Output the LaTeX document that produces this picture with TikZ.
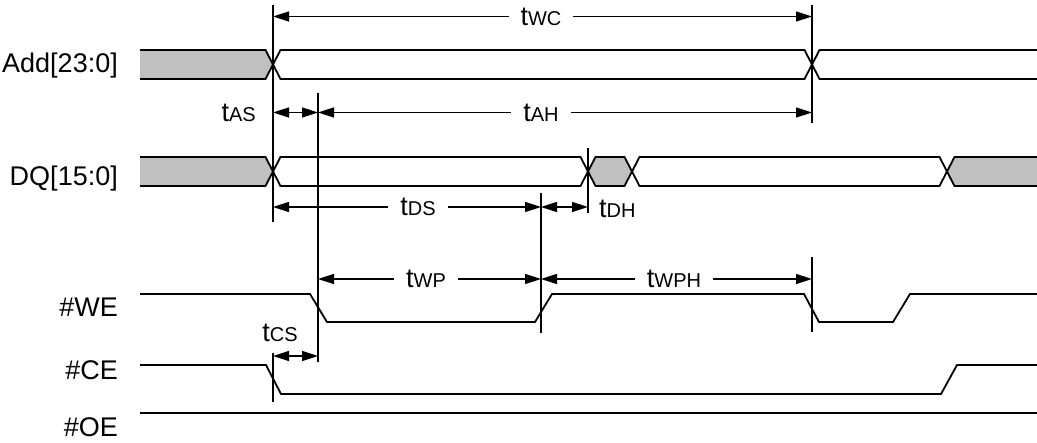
\documentclass[tikz,border=0pt]{standalone}
\usepackage{fontspec}
\setmainfont{Liberation Sans}
\usetikzlibrary{arrows.meta}
\definecolor{busgray}{RGB}{192,192,192}
\newcommand{\tlab}[1]{{\fontsize{27}{27}\selectfont t}{\fontsize{20}{20}\selectfont #1}}
\tikzset{
  sig/.style={line width=1.8pt, line join=miter},
  vline/.style={line width=1.5pt},
  dim/.style={line width=1.5pt, {Triangle[length=16pt,width=10pt]}-{Triangle[length=16pt,width=10pt]}},
  dimlab/.style={fill=white, inner xsep=12pt, inner ysep=2pt},
  siglab/.style={anchor=base east, inner sep=0pt, font=\fontsize{27}{27}\selectfont},
  tl/.style={inner sep=0pt}
}
\begin{document}
\begin{tikzpicture}[x=1pt,y=-1pt]
\useasboundingbox (0,0) rectangle (1037,443);
% signal names
\node[siglab] (nadd) at (118,73) {Add[23:0]};
\node[siglab] (ndq) at (118,186) {DQ[15:0]};
\node[siglab] (nwe) at (118,317) {\#WE};
\node[siglab] (nce) at (118,380) {\#CE};
\node[siglab] (noe) at (118,437) {\#OE};
% gray fills
\fill[busgray] (140,50) -- (265.5,50) -- (273,64.5) -- (265.5,79) -- (140,79) -- cycle;
\fill[busgray] (140,157) -- (265.5,157) -- (273,171.5) -- (265.5,186) -- (140,186) -- cycle;
\fill[busgray] (588,171.5) -- (595.5,157) -- (624.5,157) -- (632,171.5) -- (624.5,186) -- (595.5,186) -- cycle;
\fill[busgray] (947,171.5) -- (954.5,157) -- (1037,157) -- (1037,186) -- (954.5,186) -- cycle;
% Add bus
\draw[sig] (140,50) -- (265.5,50) -- (280.5,79) -- (804.5,79) -- (819.5,50) -- (1037,50);
\draw[sig] (140,79) -- (265.5,79) -- (280.5,50) -- (804.5,50) -- (819.5,79) -- (1037,79);
% DQ bus
\draw[sig] (140,157) -- (265.5,157) -- (280.5,186) -- (580.5,186) -- (595.5,157) -- (624.5,157) -- (639.5,186) -- (939.5,186) -- (954.5,157) -- (1037,157);
\draw[sig] (140,186) -- (265.5,186) -- (280.5,157) -- (580.5,157) -- (595.5,186) -- (624.5,186) -- (639.5,157) -- (939.5,157) -- (954.5,186) -- (1037,186);
% WE
\draw[sig] (140,294) -- (310,294) -- (327,322) -- (535,322) -- (552,294) -- (804,294) -- (819,322) -- (893,322) -- (910,294) -- (1037,294);
% CE
\draw[sig] (140,365) -- (266,365) -- (281,394) -- (941,394) -- (957,365) -- (1037,365);
% OE
\draw[sig] (140,413) -- (1037,413);
% vertical reference lines
\coordinate (a1) at (273,5);   \coordinate (a2) at (273,222);
\coordinate (b1) at (318,93);  \coordinate (b2) at (318,362);
\coordinate (c1) at (812,5);   \coordinate (c2) at (812,123);
\coordinate (c3) at (812,257); \coordinate (c4) at (812,332);
\coordinate (d1) at (588,148); \coordinate (d2) at (588,213);
\coordinate (e1) at (541,193); \coordinate (e2) at (541,333);
\coordinate (f1) at (273,353); \coordinate (f2) at (273,402);
\draw[vline] (a1) -- (a2);
\draw[vline] (b1) -- (b2);
\draw[vline] (c1) -- (c2);
\draw[vline] (c3) -- (c4);
\draw[vline] (d1) -- (d2);
\draw[vline] (e1) -- (e2);
\draw[vline] (f1) -- (f2);
% dimension arrows
\coordinate (wcL) at (273,16.5); \coordinate (wcR) at (812,16.5);
\draw[dim] (wcL) -- (wcR);
\node[dimlab] (lwc) at (541,16.5) {\tlab{WC}};
\coordinate (asL) at (273,112.5); \coordinate (asR) at (318,112.5); \coordinate (ahR) at (812,112.5);
\draw[dim] (asL) -- (asR);
\draw[dim] (asR) -- (ahR);
\node[dimlab] (lah) at (541,112.5) {\tlab{AH}};
\node[tl, anchor=east] (las) at (256,112.5) {\tlab{AS}};
\coordinate (dsL) at (273,207); \coordinate (dsR) at (541,207); \coordinate (dhR) at (588,207);
\draw[dim] (dsL) -- (dsR);
\draw[dim] (dsR) -- (dhR);
\node[dimlab] (lds) at (418,207) {\tlab{DS}};
\node[tl, anchor=west] (ldh) at (599,209) {\tlab{DH}};
\coordinate (wpL) at (318,279); \coordinate (wpR) at (541,279); \coordinate (wphR) at (812,279);
\draw[dim] (wpL) -- (wpR);
\draw[dim] (wpR) -- (wphR);
\node[dimlab] (lwp) at (426,279) {\tlab{WP}};
\node[dimlab] (lwph) at (674,279) {\tlab{WPH}};
\coordinate (csL) at (273,356); \coordinate (csR) at (318,356);
\draw[dim] (csL) -- (csR);
\node[tl] (lcs) at (280,333) {\tlab{CS}};
\end{tikzpicture}
\end{document}
